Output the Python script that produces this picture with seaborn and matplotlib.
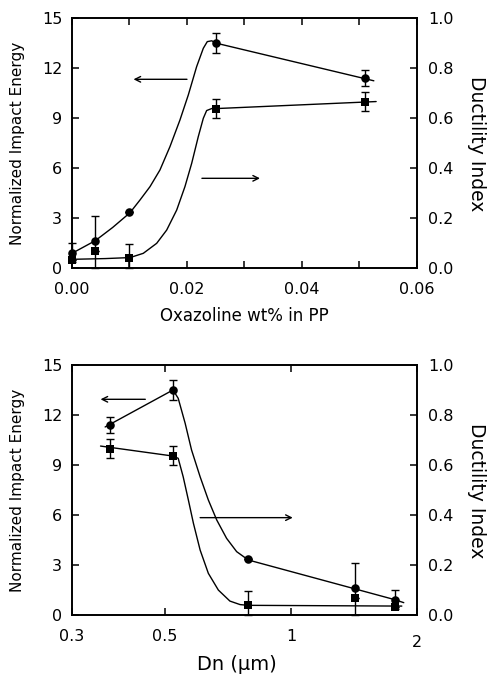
import numpy as np
import pandas as pd
import matplotlib
matplotlib.use("Agg")
import matplotlib.pyplot as plt
import matplotlib.transforms as mtransforms
from matplotlib.ticker import FixedLocator, NullLocator, FixedFormatter
import seaborn as sns

# ---------------- data ----------------
oxazoline_wt = [0.0, 0.004, 0.010, 0.025, 0.051]
dn_um = [1.77, 1.42, 0.788, 0.523, 0.370]
impact_energy = [0.94, 1.66, 3.36, 13.54, 11.43]
impact_err_lo = [0.55, 1.66, 0.0, 0.60, 0.48]
impact_err_hi = [0.55, 1.48, 0.0, 0.60, 0.48]
ductility = [0.034, 0.071, 0.041, 0.639, 0.667]
ductility_err_lo = [0.0, 0.0, 0.041, 0.039, 0.039]
ductility_err_hi = [0.0, 0.0, 0.058, 0.039, 0.039]

# hand-drawn guide curves
top_impact_guide_x = [0.0, 0.00406, 0.00707, 0.0101, 0.01183, 0.01357, 0.0153, 0.01704,
                      0.01878, 0.02023, 0.02168, 0.02284, 0.02353, 0.0243, 0.02517, 0.0525]
top_impact_guide_y = [0.90, 1.66, 2.45, 3.34, 4.10, 4.90, 5.90, 7.30, 8.90, 10.40, 12.10,
                      13.20, 13.60, 13.65, 13.50, 11.25]
top_duct_guide_x = [0.0, 0.0058, 0.0101, 0.0124, 0.01473, 0.01647, 0.01821, 0.01965,
                    0.02082, 0.02197, 0.02284, 0.02342, 0.0243, 0.02517, 0.0529]
top_duct_guide_y = [0.036, 0.039, 0.043, 0.060, 0.100, 0.153, 0.233, 0.327, 0.420,
                    0.527, 0.600, 0.631, 0.639, 0.639, 0.667]
bot_impact_guide_x = [0.360, 0.523, 0.538, 0.559, 0.579, 0.607, 0.635, 0.665, 0.702,
                      0.742, 0.791, 1.77, 1.86]
bot_impact_guide_y = [11.30, 13.52, 13.02, 11.52, 9.92, 8.31, 6.92, 5.72, 4.62, 3.82,
                      3.32, 0.94, 0.76]
bot_duct_guide_x = [0.351, 0.523, 0.538, 0.553, 0.569, 0.585, 0.607, 0.635, 0.671,
                    0.715, 0.756, 0.79, 1.84]
bot_duct_guide_y = [0.677, 0.637, 0.628, 0.554, 0.461, 0.368, 0.261, 0.168, 0.101,
                    0.057, 0.043, 0.040, 0.037]

left_ticks = [0, 3, 6, 9, 12, 15]
right_ticks = [0.0, 0.2, 0.4, 0.6, 0.8, 1.0]
right_ticklabels = ["0.0", "0.2", "0.4", "0.6", "0.8", "1.0"]
top_xticks = [0.0, 0.02, 0.04, 0.06]
top_xticklabels = ["0.00", "0.02", "0.04", "0.06"]
bot_xticks = [0.3, 0.5, 1.0, 2.0]
bot_xticklabels = ["0.3", "0.5", "1", ""]

# ---------------- style ----------------
sns.set_style("ticks")
plt.rcParams["font.family"] = ["DejaVu Sans"]
plt.rcParams["axes.linewidth"] = 1.2
plt.rcParams["text.color"] = "black"
plt.rcParams["axes.labelcolor"] = "black"
plt.rcParams["xtick.color"] = "black"
plt.rcParams["ytick.color"] = "black"
plt.rcParams["axes.edgecolor"] = "black"

fig = plt.figure(figsize=(4.87, 6.8), dpi=100)
ax_top = fig.add_axes([0.1478, 0.6054, 0.7084, 0.3677])
ax_bot = fig.add_axes([0.1478, 0.0951, 0.7084, 0.3677])

TICK_FS = 11.5


def decorate(ax, ax2):
    ax.set_ylim(0, 15)
    ax.yaxis.set_major_locator(FixedLocator(left_ticks))
    ax.tick_params(axis="both", which="both", direction="in", length=5, width=1.1,
                   top=True, right=False, labelsize=TICK_FS, colors="black")
    ax.tick_params(axis="x", pad=9.5)
    ax.tick_params(axis="y", pad=7)
    ax2.set_ylim(0, 1)
    ax2.yaxis.set_major_locator(FixedLocator(right_ticks))
    ax2.yaxis.set_major_formatter(FixedFormatter(right_ticklabels))
    ax2.tick_params(axis="y", direction="in", length=5, width=1.1, pad=8,
                    labelsize=TICK_FS, colors="black")
    ax.set_ylabel("Normalized Impact Energy", fontsize=11, color="black")
    ax.yaxis.set_label_coords(-0.135, 0.5)
    ax2.set_ylabel("Ductility Index", fontsize=13.5, rotation=270, va="bottom",
                   color="black")
    ax2.yaxis.set_label_coords(1.145, 0.5)
    for a in (ax, ax2):
        for s in a.spines.values():
            s.set_visible(True)
            s.set_linewidth(1.2)
            s.set_color("black")


def draw_panel(ax, x, gx_i, gy_i, gx_d, gy_d):
    ax2 = ax.twinx()
    df_i = pd.DataFrame({"x": gx_i, "y": gy_i})
    df_d = pd.DataFrame({"x": gx_d, "y": gy_d})
    sns.lineplot(data=df_i, x="x", y="y", ax=ax, color="black", lw=1.0,
                 sort=False, estimator=None, legend=False)
    sns.lineplot(data=df_d, x="x", y="y", ax=ax2, color="black", lw=1.0,
                 sort=False, estimator=None, legend=False)
    ax.errorbar(x, impact_energy, yerr=[impact_err_lo, impact_err_hi], fmt="none",
                ecolor="black", elinewidth=1.0, capsize=3, capthick=1.0, clip_on=False)
    ax2.errorbar(x, ductility, yerr=[ductility_err_lo, ductility_err_hi], fmt="none",
                 ecolor="black", elinewidth=1.0, capsize=3, capthick=1.0, clip_on=False)
    sns.scatterplot(x=x, y=impact_energy, ax=ax, marker="o", s=38, color="black",
                    edgecolor="black", linewidth=0, clip_on=False, zorder=5, legend=False)
    sns.scatterplot(x=x, y=ductility, ax=ax2, marker="s", s=26, color="black",
                    edgecolor="black", linewidth=0, clip_on=False, zorder=5, legend=False)
    ax2.set_xlabel("")
    return ax2


arrow_kw = dict(arrowstyle="->", lw=1.0, color="black", mutation_scale=10,
                shrinkA=0, shrinkB=0)

# ---------------- top panel ----------------
ax2_top = draw_panel(ax_top, oxazoline_wt, top_impact_guide_x, top_impact_guide_y,
                     top_duct_guide_x, top_duct_guide_y)
ax_top.set_xlim(0, 0.06)
ax_top.xaxis.set_major_locator(FixedLocator(top_xticks))
ax_top.xaxis.set_major_formatter(FixedFormatter(top_xticklabels))
ax_top.xaxis.set_minor_locator(FixedLocator([0.01, 0.03, 0.05]))
decorate(ax_top, ax2_top)
ax_top.set_xlabel("Oxazoline wt% in PP", fontsize=12, color="black")
ax_top.xaxis.set_label_coords(0.5, -0.155)
ax_top.annotate("", xy=(0.0107, 11.34), xytext=(0.0200, 11.34), arrowprops=arrow_kw)
ax_top.annotate("", xy=(0.0327, 5.4), xytext=(0.0226, 5.4), arrowprops=arrow_kw)

# ---------------- bottom panel ----------------
ax2_bot = draw_panel(ax_bot, dn_um, bot_impact_guide_x, bot_impact_guide_y,
                     bot_duct_guide_x, bot_duct_guide_y)
ax_bot.set_xscale("log")
ax_bot.set_xlim(0.3, 2.0)
ax_bot.xaxis.set_major_locator(FixedLocator(bot_xticks))
ax_bot.xaxis.set_major_formatter(FixedFormatter(bot_xticklabels))
ax_bot.xaxis.set_minor_locator(NullLocator())
decorate(ax_bot, ax2_bot)
trans = mtransforms.blended_transform_factory(ax_bot.transData, ax_bot.transAxes)
ax_bot.text(2.0, -0.079, "2", transform=trans, ha="center", va="top", fontsize=TICK_FS)
ax_bot.set_xlabel("Dn (\u03bcm)", fontsize=14, color="black")
ax_bot.xaxis.set_label_coords(0.478, -0.16)
ax_bot.annotate("", xy=(0.351, 12.96), xytext=(0.449, 12.96), arrowprops=arrow_kw)
ax_bot.annotate("", xy=(1.01, 5.86), xytext=(0.607, 5.86), arrowprops=arrow_kw)

fig.savefig("out.png", dpi=100, facecolor="white")
